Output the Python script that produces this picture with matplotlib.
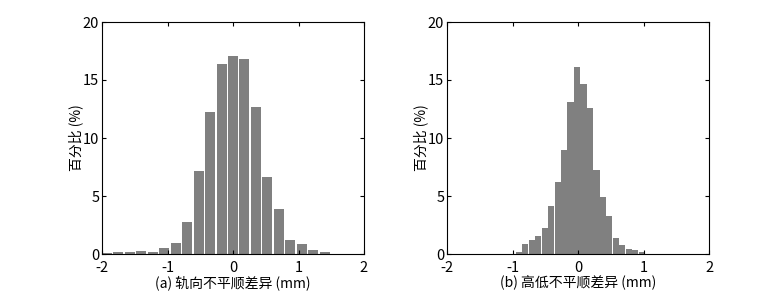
import numpy as np
import matplotlib
matplotlib.use('Agg')
import matplotlib.pyplot as plt

plt.rcParams['font.family'] = ['Noto Sans CJK SC', 'DejaVu Sans']
plt.rcParams['axes.unicode_minus'] = False

# (a) bin centres and percentages
a_centers = [-1.925, -1.75, -1.575, -1.40, -1.225, -1.05, -0.875, -0.70, -0.525, -0.35,
             -0.175, 0.0, 0.175, 0.35, 0.525, 0.70, 0.875, 1.05, 1.225, 1.40]
a_values = [0.09, 0.17, 0.17, 0.26, 0.17, 0.52, 0.95, 2.75, 7.14, 12.22,
            16.36, 17.04, 16.79, 12.65, 6.63, 3.87, 1.20, 0.86, 0.34, 0.17]

# (b) bin centres and percentages
b_centers = [-0.903, -0.804, -0.706, -0.607, -0.508, -0.410, -0.311, -0.212, -0.114, -0.015,
             0.084, 0.182, 0.281, 0.380, 0.478, 0.577, 0.676, 0.774, 0.873, 0.972]
b_values = [0.17, 0.86, 1.20, 1.55, 2.24, 4.13, 6.20, 8.95, 13.08, 16.10,
            14.63, 12.57, 7.23, 4.91, 3.27, 1.38, 0.77, 0.43, 0.34, 0.17]

xlabels = ['(a) 轨向不平顺差异 (mm)', '(b) 高低不平顺差异 (mm)']
ylabel = '百分比 (%)'

fig = plt.figure(figsize=(7.84, 2.92), dpi=100)
W, H = 784, 292
ax1 = fig.add_axes([102 / W, 1 - 254 / H, 262 / W, 232 / H])
ax2 = fig.add_axes([447 / W, 1 - 254 / H, 262 / W, 232 / H])

panels = [(ax1, a_centers, a_values, 0.175 * 0.87, xlabels[0]),
          (ax2, b_centers, b_values, 0.0987 * 0.96, xlabels[1])]

for ax, c, v, w, xl in panels:
    ax.bar(c, v, width=w, color='#808080', edgecolor='none')
    ax.set_xlim(-2, 2)
    ax.set_ylim(0, 20)
    ax.set_xticks([-2, -1, 0, 1, 2])
    ax.set_yticks([0, 5, 10, 15, 20])
    ax.tick_params(direction='in', top=True, right=True, labelsize=10.5, length=3, width=0.8)
    ax.tick_params(axis='x', pad=5)
    ax.tick_params(axis='y', pad=2)
    ax.set_xlabel(xl, fontsize=10, labelpad=0)
    ax.set_ylabel(ylabel, fontsize=10, labelpad=0)
    for s in ax.spines.values():
        s.set_linewidth(0.8)

fig.savefig('out.png', dpi=100)
